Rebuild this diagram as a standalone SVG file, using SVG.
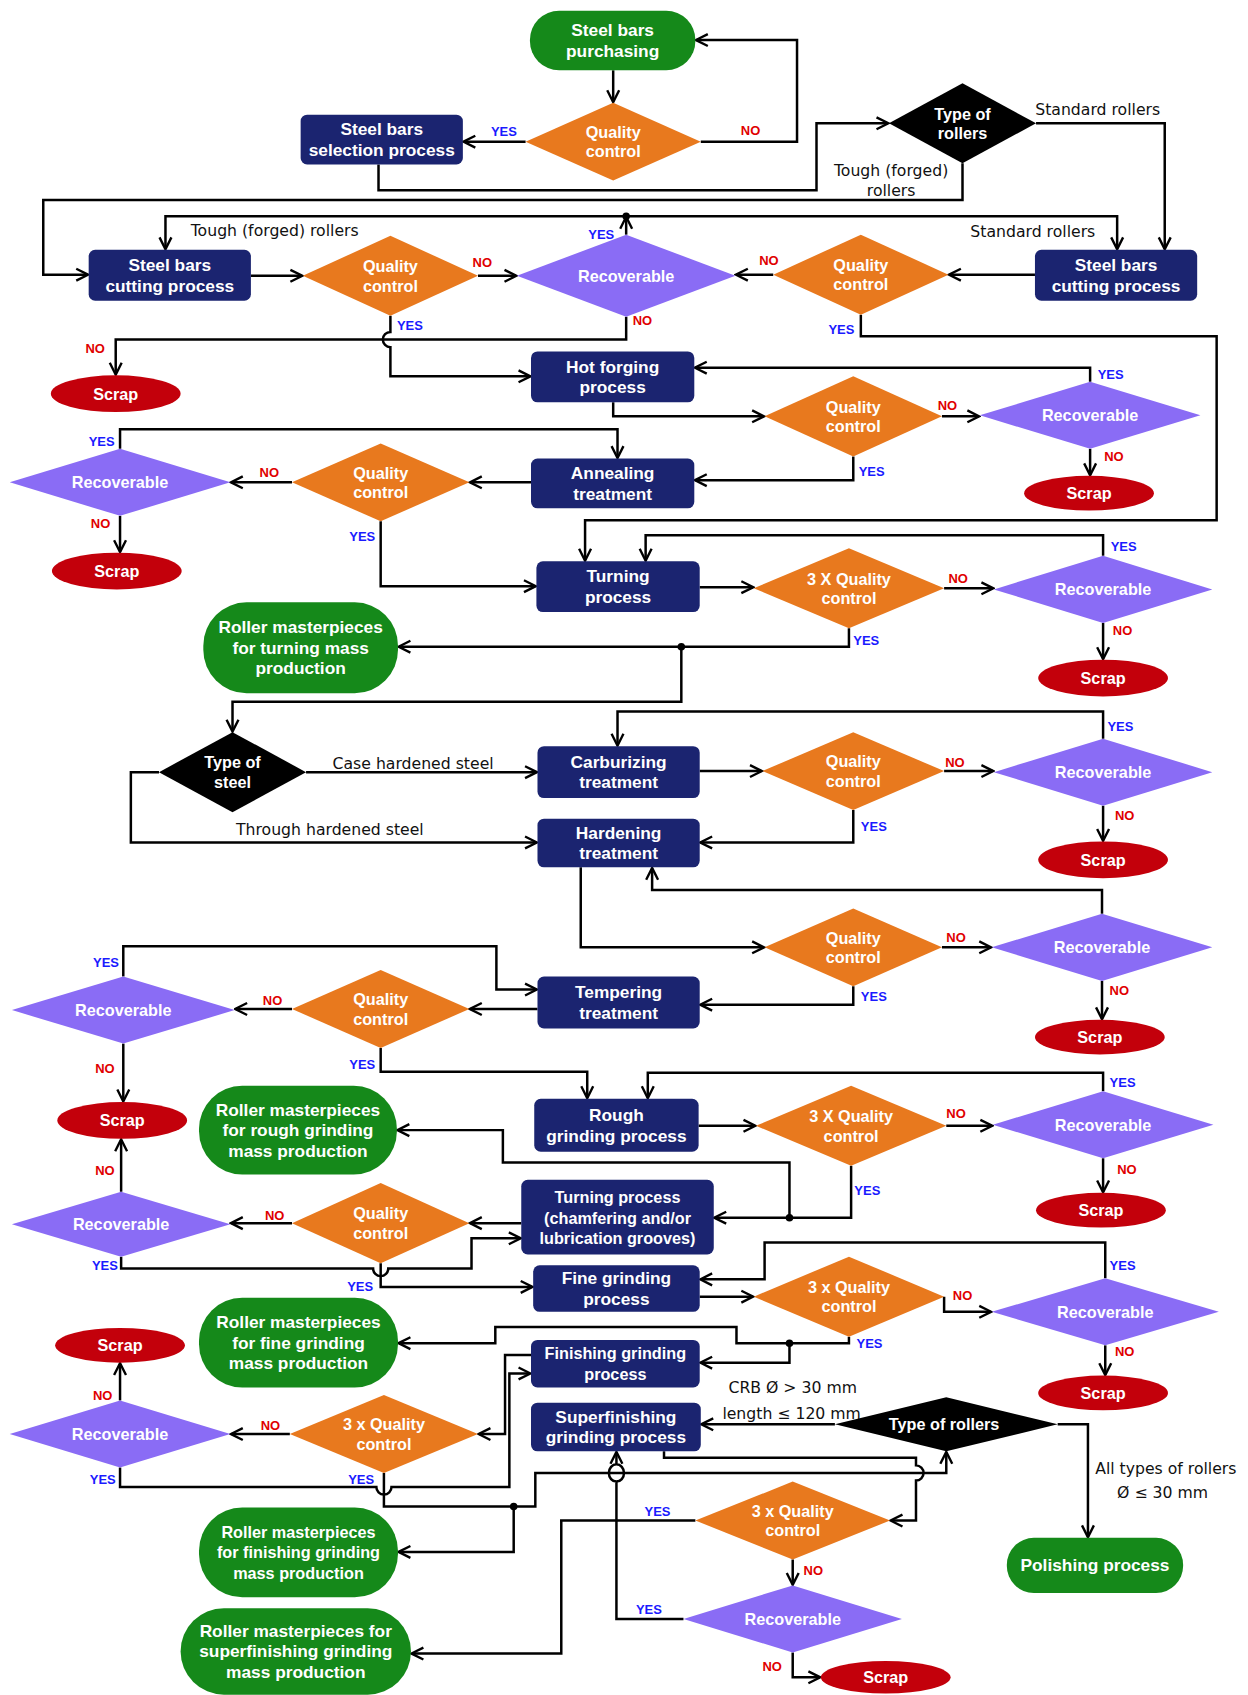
<svg xmlns="http://www.w3.org/2000/svg" width="1248" height="1695" viewBox="0 0 1248 1695">
<defs>
<style>
.box{fill:#1b2470}
.qc{fill:#e8791e}
.rec{fill:#8a6cf5}
.scrap{fill:#c3000b}
.term{fill:#15891a}
.dec{fill:#000}
.t{font-family:"Liberation Sans",Arial,sans-serif;font-weight:bold;font-size:16px;fill:#fff;text-anchor:middle;dominant-baseline:central}
.ts{font-size:15px}
.td{font-family:"Liberation Sans",Arial,sans-serif;font-weight:bold;font-size:15px;fill:#fff;text-anchor:middle;dominant-baseline:central}
.lab{font-family:"DejaVu Sans",sans-serif;font-size:14.5px;fill:#111;text-anchor:middle;dominant-baseline:central}
.yes,.no{font-family:"Liberation Sans",Arial,sans-serif;font-weight:bold;font-size:12px;text-anchor:middle;dominant-baseline:central}
.yes{fill:#1a1aff}
.no{fill:#e00000}
.ln{fill:none;stroke:#000;stroke-width:2.3;stroke-linejoin:miter}
.arr{marker-end:url(#ah)}
</style>
<marker id="ah" markerUnits="userSpaceOnUse" markerWidth="14" markerHeight="14" viewBox="0 0 14 14" refX="12" refY="7" orient="auto">
<path d="M1.5,1.5 L12.5,7 L1.5,12.5" fill="none" stroke="#000" stroke-width="2.2"/>
</marker>
</defs>
<rect width="1248" height="1695" fill="#fff"/>
<g transform="scale(1.08146)">

<!-- connectors -->
<g id="connectors">
<path class="ln arr" d="M567,65 V94"/>
<path class="ln arr" d="M648,131 H737 V37 H644"/>
<path class="ln arr" d="M486,131 H429"/>
<path class="ln arr" d="M350,152 V176 H755 V114 H821"/>
<path class="ln arr" d="M958,114 H1077 V230"/>
<path class="ln arr" d="M890,151 V185 H40 V254 H81"/>
<path class="ln arr" d="M579,217 V201"/>
<path class="ln arr" d="M579,200 H153 V230"/>
<path class="ln arr" d="M579,200 H1033 V230"/>
<circle cx="579" cy="200" r="3.5"/>
<path class="ln arr" d="M232,255 H279"/>
<path class="ln arr" d="M442,255 H477"/>
<path class="ln arr" d="M957,254 H878"/>
<path class="ln arr" d="M715,254 H681"/>
<path class="ln arr" d="M579,293 V314 H107 V346"/>
<path class="ln arr" d="M361,292 V307 A7,7 0 0 0 361,321 V348 H490"/>
<path class="ln arr" d="M796,291 V311 H1125 V481 H541 V518"/>
<path class="ln arr" d="M567,372 V385 H706"/>
<path class="ln arr" d="M871,385 H905"/>
<path class="ln arr" d="M1008,353 V340 H643"/>
<path class="ln arr" d="M1008,415 V439"/>
<path class="ln arr" d="M789,422 V444 H643"/>
<path class="ln arr" d="M491,446 H435"/>
<path class="ln arr" d="M270,446 H214"/>
<path class="ln arr" d="M111,415 V397 H571 V423"/>
<path class="ln arr" d="M111,477 V510"/>
<path class="ln arr" d="M352,482 V542 H495"/>
<path class="ln arr" d="M647,543 H696"/>
<path class="ln arr" d="M873,544 H918"/>
<path class="ln arr" d="M1020,514 V495 H597 V518"/>
<path class="ln arr" d="M1020,576 V609"/>
<path class="ln arr" d="M785,581 V598 H369"/>
<path class="ln arr" d="M630,598 V649 H215 V676"/>
<circle cx="630" cy="598" r="3.5"/>
<path class="ln arr" d="M283,714 H496"/>
<path class="ln arr" d="M147,714 H121 V779 H496"/>
<path class="ln arr" d="M647,713 H704"/>
<path class="ln arr" d="M873,713 H918"/>
<path class="ln arr" d="M1020,683 V658 H571 V689"/>
<path class="ln arr" d="M1020,745 V777"/>
<path class="ln arr" d="M789,749 V779 H648"/>
<path class="ln arr" d="M537,802 V876 H706"/>
<path class="ln arr" d="M871,876 H916"/>
<path class="ln arr" d="M1019,845 V823 H603 V803"/>
<path class="ln arr" d="M1019,907 V942"/>
<path class="ln arr" d="M789,912 V929 H648"/>
<path class="ln arr" d="M497,933 H435"/>
<path class="ln arr" d="M270,933 H218"/>
<path class="ln arr" d="M114,903 V875 H459 V915 H496"/>
<path class="ln arr" d="M114,965 V1018"/>
<path class="ln arr" d="M352,969 V991 H543 V1015"/>
<path class="ln arr" d="M646,1041 H698"/>
<path class="ln arr" d="M875,1041 H917"/>
<path class="ln arr" d="M1020,1009 V992 H599 V1015"/>
<path class="ln arr" d="M1020,1071 V1102"/>
<path class="ln arr" d="M787,1078 V1126 H661"/>
<path class="ln arr" d="M730,1126 V1075 H465 V1045 H368"/>
<circle cx="730" cy="1126" r="3.5"/>
<path class="ln arr" d="M482,1131 H435"/>
<path class="ln arr" d="M270,1131 H214"/>
<path class="ln arr" d="M112,1102 V1054"/>
<path class="ln arr" d="M112,1162 V1173 H345 A7,7 0 0 0 359,1173 H436 V1145 H481"/>
<path class="ln arr" d="M352,1168 V1190 H492"/>
<path class="ln arr" d="M647,1199 H696"/>
<path class="ln arr" d="M873,1199 V1213 H916"/>
<path class="ln arr" d="M1022,1182 V1149 H707 V1183 H648"/>
<path class="ln arr" d="M1022,1244 V1271"/>
<path class="ln arr" d="M785,1236 V1242 H681 V1227 H458 V1242 H369"/>
<path class="ln arr" d="M730,1242 V1260 H648"/>
<circle cx="730" cy="1242" r="3.5"/>
<path class="ln arr" d="M491,1253 H467 V1326 H443"/>
<path class="ln arr" d="M268,1326 H214"/>
<path class="ln arr" d="M111,1295 V1261"/>
<path class="ln arr" d="M111,1357 V1375 H348 A7,7 0 0 0 362,1375 H471 V1270 H490"/>
<path class="ln arr" d="M355,1362 V1393 H495 V1362 H875 V1343"/>
<path class="ln arr" d="M475,1393 V1435 H369"/>
<circle cx="475" cy="1393" r="3.5"/>
<path class="ln arr" d="M614,1342 V1348 H847 V1355 A7,7 0 0 1 847,1369 V1406 H824"/>
<path class="ln arr" d="M772,1317 H649"/>
<path class="ln arr" d="M978,1317 H1006 V1421"/>
<path class="ln arr" d="M643,1406 H519 V1529 H381"/>
<path class="ln arr" d="M733,1442 V1465"/>
<path class="ln arr" d="M632,1497 H570 V1370 A7,8 0 0 1 570,1354 A7,8 0 0 1 570,1370 M570,1354 V1343"/>
<path class="ln arr" d="M733,1528 V1551 H758"/>
</g>

<!-- branch labels -->
<g id="edge-labels">
<text class="no" x="694" y="121">NO</text>
<text class="yes" x="466" y="122">YES</text>
<text class="lab" x="1015" y="101">Standard rollers</text>
<text class="lab" x="824" y="158">Tough (forged)</text>
<text class="lab" x="824" y="176">rollers</text>
<text class="yes" x="556" y="217">YES</text>
<text class="lab" x="254" y="213">Tough (forged) rollers</text>
<text class="lab" x="955" y="214">Standard rollers</text>
<text class="no" x="446" y="243">NO</text>
<text class="no" x="711" y="241">NO</text>
<text class="no" x="594" y="296">NO</text>
<text class="yes" x="379" y="301">YES</text>
<text class="yes" x="778" y="305">YES</text>
<text class="no" x="88" y="322">NO</text>
<text class="yes" x="1027" y="346">YES</text>
<text class="no" x="876" y="375">NO</text>
<text class="no" x="1030" y="422">NO</text>
<text class="yes" x="806" y="436">YES</text>
<text class="yes" x="94" y="408">YES</text>
<text class="no" x="249" y="437">NO</text>
<text class="no" x="93" y="484">NO</text>
<text class="yes" x="335" y="496">YES</text>
<text class="yes" x="1039" y="505">YES</text>
<text class="no" x="886" y="535">NO</text>
<text class="no" x="1038" y="583">NO</text>
<text class="yes" x="801" y="592">YES</text>
<text class="lab" x="382" y="706">Case hardened steel</text>
<text class="lab" x="305" y="767">Through hardened steel</text>
<text class="yes" x="1036" y="672">YES</text>
<text class="no" x="883" y="705">NO</text>
<text class="no" x="1040" y="754">NO</text>
<text class="yes" x="808" y="764">YES</text>
<text class="no" x="884" y="867">NO</text>
<text class="no" x="1035" y="916">NO</text>
<text class="yes" x="808" y="921">YES</text>
<text class="yes" x="98" y="890">YES</text>
<text class="no" x="252" y="925">NO</text>
<text class="no" x="97" y="988">NO</text>
<text class="yes" x="335" y="984">YES</text>
<text class="yes" x="1038" y="1001">YES</text>
<text class="no" x="884" y="1030">NO</text>
<text class="no" x="1042" y="1081">NO</text>
<text class="yes" x="802" y="1101">YES</text>
<text class="no" x="97" y="1082">NO</text>
<text class="no" x="254" y="1124">NO</text>
<text class="yes" x="97" y="1170">YES</text>
<text class="yes" x="333" y="1190">YES</text>
<text class="yes" x="1038" y="1170">YES</text>
<text class="no" x="890" y="1198">NO</text>
<text class="no" x="1040" y="1250">NO</text>
<text class="yes" x="804" y="1242">YES</text>
<text class="no" x="95" y="1290">NO</text>
<text class="no" x="250" y="1318">NO</text>
<text class="yes" x="95" y="1368">YES</text>
<text class="yes" x="334" y="1368">YES</text>
<text class="lab" x="733" y="1283">CRB Ø &gt; 30 mm</text>
<text class="lab" x="732" y="1307">length ≤ 120 mm</text>
<text class="lab" x="1078" y="1358">All types of rollers</text>
<text class="lab" x="1075" y="1380">Ø ≤ 30 mm</text>
<text class="yes" x="608" y="1398">YES</text>
<text class="no" x="752" y="1452">NO</text>
<text class="yes" x="600" y="1488">YES</text>
<text class="no" x="714" y="1541">NO</text>
</g>

<!-- nodes -->
<g id="purchasing"><rect class="term" x="490" y="10" width="153" height="55" rx="27"/><text class="t" x="566.5" y="28">Steel bars</text><text class="t" x="566.5" y="47">purchasing</text></g>
<g id="qc1"><polygon class="qc" points="486,131 567,95 648,131 567,167"/><text class="td" x="567" y="122">Quality</text><text class="td" x="567" y="140">control</text></g>
<g id="selection"><rect class="box" x="278" y="106" width="150" height="46" rx="6"/><text class="t" x="353" y="119.5">Steel bars</text><text class="t" x="353" y="138.5">selection process</text></g>
<g id="type-rollers-1"><polygon class="dec" points="822,114 890,77 958,114 890,151"/><text class="td" x="890" y="105">Type of</text><text class="td" x="890" y="123">rollers</text></g>
<g id="cutting-left"><rect class="box" x="82" y="231" width="150" height="47" rx="6"/><text class="t" x="157" y="245">Steel bars</text><text class="t" x="157" y="264">cutting process</text></g>
<g id="qc2"><polygon class="qc" points="280,255 361,218 442,255 361,292"/><text class="td" x="361" y="246">Quality</text><text class="td" x="361" y="264">control</text></g>
<g id="recoverable-1"><polygon class="rec" points="478,255 579,217 680,255 579,293"/><text class="td" x="579" y="255">Recoverable</text></g>
<g id="qc3"><polygon class="qc" points="715,254 796,217 877,254 796,291"/><text class="td" x="796" y="245">Quality</text><text class="td" x="796" y="263">control</text></g>
<g id="cutting-right"><rect class="box" x="957" y="231" width="150" height="47" rx="6"/><text class="t" x="1032" y="245">Steel bars</text><text class="t" x="1032" y="264">cutting process</text></g>
<g id="scrap-1"><ellipse class="scrap" cx="107" cy="364" rx="60" ry="17"/><text class="td" x="107" y="364">Scrap</text></g>
<g id="hot-forging"><rect class="box" x="491" y="325" width="151" height="47" rx="6"/><text class="t" x="566.5" y="339">Hot forging</text><text class="t" x="566.5" y="358">process</text></g>
<g id="qc4"><polygon class="qc" points="707,385 789,348 871,385 789,422"/><text class="td" x="789" y="376">Quality</text><text class="td" x="789" y="394">control</text></g>
<g id="recoverable-2"><polygon class="rec" points="906,384 1008,353 1110,384 1008,415"/><text class="td" x="1008" y="384">Recoverable</text></g>
<g id="scrap-2"><ellipse class="scrap" cx="1007" cy="456" rx="60" ry="16"/><text class="td" x="1007" y="456">Scrap</text></g>
<g id="annealing"><rect class="box" x="491" y="424" width="151" height="46" rx="6"/><text class="t" x="566.5" y="437.5">Annealing</text><text class="t" x="566.5" y="456.5">treatment</text></g>
<g id="qc5"><polygon class="qc" points="270,446 352,410 434,446 352,482"/><text class="td" x="352" y="437">Quality</text><text class="td" x="352" y="455">control</text></g>
<g id="recoverable-3"><polygon class="rec" points="9,446 111,415 213,446 111,477"/><text class="td" x="111" y="446">Recoverable</text></g>
<g id="scrap-3"><ellipse class="scrap" cx="108" cy="528" rx="60" ry="17"/><text class="td" x="108" y="528">Scrap</text></g>
<g id="turning"><rect class="box" x="496" y="519" width="151" height="47" rx="6"/><text class="t" x="571.5" y="533">Turning</text><text class="t" x="571.5" y="552">process</text></g>
<g id="qc6"><polygon class="qc" points="697,544 785,507 873,544 785,581"/><text class="td" x="785" y="535">3 X Quality</text><text class="td" x="785" y="553">control</text></g>
<g id="recoverable-4"><polygon class="rec" points="919,545 1020,514 1121,545 1020,576"/><text class="td" x="1020" y="545">Recoverable</text></g>
<g id="scrap-4"><ellipse class="scrap" cx="1020" cy="627" rx="60" ry="17"/><text class="td" x="1020" y="627">Scrap</text></g>
<g id="masterpieces-turning"><rect class="term" x="188" y="557" width="180" height="84" rx="40"/><text class="t" x="278" y="580">Roller masterpieces</text><text class="t" x="278" y="599">for turning mass</text><text class="t" x="278" y="618">production</text></g>
<g id="type-steel"><polygon class="dec" points="147,714 215,677 283,714 215,751"/><text class="td" x="215" y="705">Type of</text><text class="td" x="215" y="723">steel</text></g>
<g id="carburizing"><rect class="box" x="497" y="690" width="150" height="48" rx="6"/><text class="t" x="572" y="704.5">Carburizing</text><text class="t" x="572" y="723.5">treatment</text></g>
<g id="qc7"><polygon class="qc" points="705,713 789,677 873,713 789,749"/><text class="td" x="789" y="704">Quality</text><text class="td" x="789" y="722">control</text></g>
<g id="recoverable-5"><polygon class="rec" points="919,714 1020,683 1121,714 1020,745"/><text class="td" x="1020" y="714">Recoverable</text></g>
<g id="scrap-5"><ellipse class="scrap" cx="1020" cy="795" rx="60" ry="17"/><text class="td" x="1020" y="795">Scrap</text></g>
<g id="hardening"><rect class="box" x="497" y="757" width="150" height="45" rx="6"/><text class="t" x="572" y="770">Hardening</text><text class="t" x="572" y="789">treatment</text></g>
<g id="qc8"><polygon class="qc" points="707,876 789,840 871,876 789,912"/><text class="td" x="789" y="867">Quality</text><text class="td" x="789" y="885">control</text></g>
<g id="recoverable-6"><polygon class="rec" points="917,876 1019,845 1121,876 1019,907"/><text class="td" x="1019" y="876">Recoverable</text></g>
<g id="scrap-6"><ellipse class="scrap" cx="1017" cy="959" rx="60" ry="16"/><text class="td" x="1017" y="959">Scrap</text></g>
<g id="tempering"><rect class="box" x="497" y="903" width="150" height="48" rx="6"/><text class="t" x="572" y="917.5">Tempering</text><text class="t" x="572" y="936.5">treatment</text></g>
<g id="qc9"><polygon class="qc" points="270,933 352,897 434,933 352,969"/><text class="td" x="352" y="924">Quality</text><text class="td" x="352" y="942">control</text></g>
<g id="recoverable-7"><polygon class="rec" points="11,934 114,903 217,934 114,965"/><text class="td" x="114" y="934">Recoverable</text></g>
<g id="scrap-7"><ellipse class="scrap" cx="113" cy="1036" rx="60" ry="17"/><text class="td" x="113" y="1036">Scrap</text></g>
<g id="masterpieces-rough"><rect class="term" x="184" y="1004" width="183" height="82" rx="40"/><text class="t" x="275.5" y="1026">Roller masterpieces</text><text class="t" x="275.5" y="1045">for rough grinding</text><text class="t" x="275.5" y="1064">mass production</text></g>
<g id="rough-grinding"><rect class="box" x="494" y="1016" width="152" height="49" rx="6"/><text class="t" x="570" y="1031">Rough</text><text class="t" x="570" y="1050">grinding process</text></g>
<g id="qc10"><polygon class="qc" points="699,1041 787,1004 875,1041 787,1078"/><text class="td" x="787" y="1032">3 X Quality</text><text class="td" x="787" y="1050">control</text></g>
<g id="recoverable-8"><polygon class="rec" points="918,1040 1020,1009 1122,1040 1020,1071"/><text class="td" x="1020" y="1040">Recoverable</text></g>
<g id="scrap-8"><ellipse class="scrap" cx="1018" cy="1119" rx="60" ry="16"/><text class="td" x="1018" y="1119">Scrap</text></g>
<g id="turning-chamfer"><rect class="box" x="482" y="1091" width="178" height="69" rx="6"/><text class="t ts" x="571" y="1107">Turning process</text><text class="t ts" x="571" y="1126">(chamfering and/or</text><text class="t ts" x="571" y="1145">lubrication grooves)</text></g>
<g id="qc11"><polygon class="qc" points="270,1131 352,1094 434,1131 352,1168"/><text class="td" x="352" y="1122">Quality</text><text class="td" x="352" y="1140">control</text></g>
<g id="recoverable-9"><polygon class="rec" points="11,1132 112,1102 213,1132 112,1162"/><text class="td" x="112" y="1132">Recoverable</text></g>
<g id="fine-grinding"><rect class="box" x="493" y="1170" width="154" height="43" rx="6"/><text class="t" x="570" y="1182">Fine grinding</text><text class="t" x="570" y="1201">process</text></g>
<g id="qc12"><polygon class="qc" points="697,1199 785,1162 873,1199 785,1236"/><text class="td" x="785" y="1190">3 x Quality</text><text class="td" x="785" y="1208">control</text></g>
<g id="recoverable-10"><polygon class="rec" points="917,1213 1022,1182 1127,1213 1022,1244"/><text class="td" x="1022" y="1213">Recoverable</text></g>
<g id="scrap-9"><ellipse class="scrap" cx="1020" cy="1288" rx="60" ry="16"/><text class="td" x="1020" y="1288">Scrap</text></g>
<g id="masterpieces-fine"><rect class="term" x="184" y="1200" width="184" height="83" rx="40"/><text class="t" x="276" y="1222.5">Roller masterpieces</text><text class="t" x="276" y="1241.5">for fine grinding</text><text class="t" x="276" y="1260.5">mass production</text></g>
<g id="finishing-grinding"><rect class="box" x="491" y="1239" width="156" height="44" rx="6"/><text class="t ts" x="569" y="1251.5">Finishing grinding</text><text class="t ts" x="569" y="1270.5">process</text></g>
<g id="scrap-10"><ellipse class="scrap" cx="111" cy="1244" rx="60" ry="16"/><text class="td" x="111" y="1244">Scrap</text></g>
<g id="superfinishing"><rect class="box" x="491" y="1297" width="157" height="45" rx="6"/><text class="t" x="569.5" y="1310">Superfinishing</text><text class="t" x="569.5" y="1329">grinding process</text></g>
<g id="type-rollers-2"><polygon class="dec" points="772,1317 875,1292 978,1317 875,1342"/><text class="td" x="873" y="1317">Type of rollers</text></g>
<g id="qc13"><polygon class="qc" points="268,1326 355,1290 442,1326 355,1362"/><text class="td" x="355" y="1317">3 x Quality</text><text class="td" x="355" y="1335">control</text></g>
<g id="recoverable-11"><polygon class="rec" points="9,1326 111,1295 213,1326 111,1357"/><text class="td" x="111" y="1326">Recoverable</text></g>
<g id="masterpieces-finishing"><rect class="term" x="184" y="1394" width="184" height="83" rx="40"/><text class="t ts" x="276" y="1416.5">Roller masterpieces</text><text class="t ts" x="276" y="1435.5">for finishing grinding</text><text class="t ts" x="276" y="1454.5">mass production</text></g>
<g id="masterpieces-superfinishing"><rect class="term" x="167" y="1487" width="213" height="80" rx="40"/><text class="t" x="273.5" y="1508">Roller masterpieces for</text><text class="t" x="273.5" y="1527">superfinishing grinding</text><text class="t" x="273.5" y="1546">mass production</text></g>
<g id="qc14"><polygon class="qc" points="643,1406 733,1370 823,1406 733,1442"/><text class="td" x="733" y="1397">3 x Quality</text><text class="td" x="733" y="1415">control</text></g>
<g id="recoverable-12"><polygon class="rec" points="632,1497 733,1466 834,1497 733,1528"/><text class="td" x="733" y="1497">Recoverable</text></g>
<g id="scrap-11"><ellipse class="scrap" cx="819" cy="1551" rx="60" ry="15"/><text class="td" x="819" y="1551">Scrap</text></g>
<g id="polishing"><rect class="term" x="931" y="1422" width="163" height="51" rx="25"/><text class="t" x="1012.5" y="1447.5">Polishing process</text></g>
</g>
</svg>
